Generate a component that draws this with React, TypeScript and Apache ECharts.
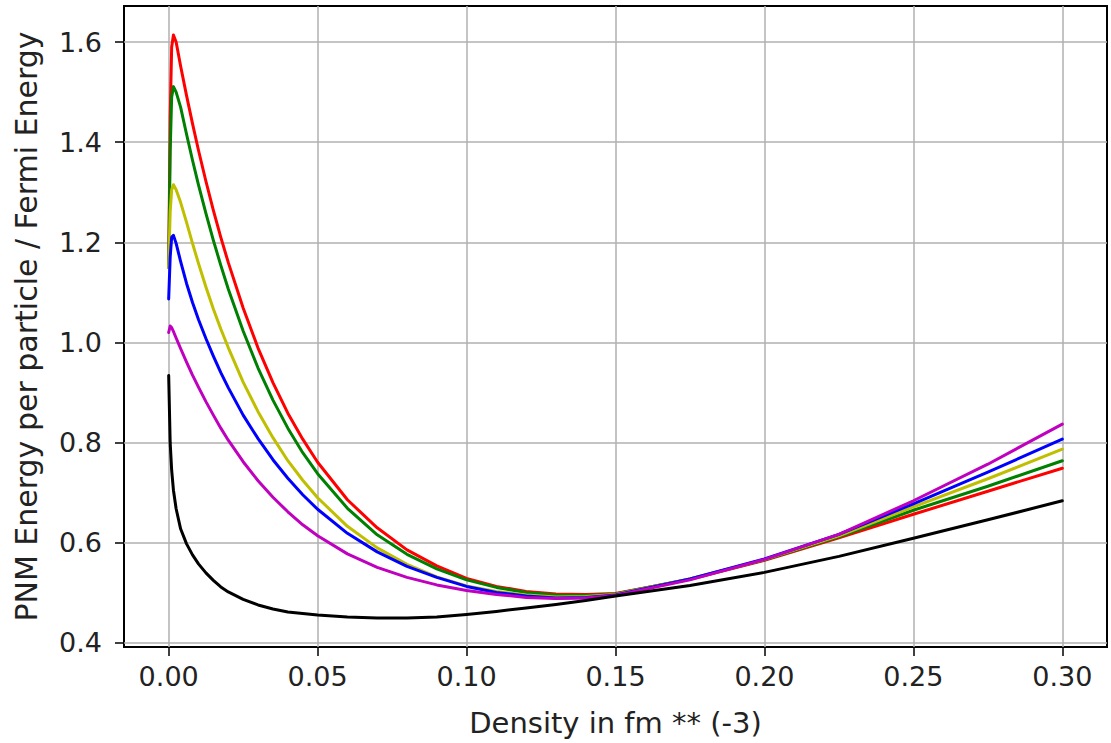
import { useEffect, useRef } from 'react';
import * as echarts from 'echarts';

const density = [0, 0.0005, 0.001, 0.0016, 0.0025, 0.004, 0.006, 0.008, 0.01, 0.0125, 0.015, 0.0175, 0.02, 0.025, 0.03, 0.035, 0.04, 0.045, 0.05, 0.06, 0.07, 0.08, 0.09, 0.10, 0.11, 0.12, 0.13, 0.14, 0.15, 0.175, 0.20, 0.225, 0.25, 0.275, 0.30];

const redVals = [1.15, 1.45, 1.59, 1.614, 1.60, 1.552, 1.493, 1.437, 1.384, 1.322, 1.264, 1.210, 1.160, 1.069, 0.989, 0.920, 0.859, 0.807, 0.761, 0.686, 0.630, 0.586, 0.554, 0.529, 0.513, 0.503, 0.498, 0.497, 0.499, 0.527, 0.565, 0.610, 0.657, 0.703, 0.749];
const greenVals = [1.15, 1.38, 1.49, 1.511, 1.50, 1.470, 1.416, 1.364, 1.315, 1.258, 1.204, 1.154, 1.107, 1.023, 0.949, 0.885, 0.829, 0.780, 0.738, 0.669, 0.616, 0.577, 0.548, 0.526, 0.511, 0.501, 0.496, 0.495, 0.498, 0.528, 0.566, 0.612, 0.665, 0.713, 0.764];
const yellowVals = [1.15, 1.26, 1.305, 1.315, 1.305, 1.280, 1.240, 1.198, 1.158, 1.111, 1.067, 1.027, 0.990, 0.921, 0.862, 0.810, 0.764, 0.725, 0.690, 0.633, 0.590, 0.557, 0.532, 0.514, 0.503, 0.496, 0.492, 0.493, 0.497, 0.528, 0.567, 0.614, 0.672, 0.728, 0.787];
const blueVals = [1.087, 1.17, 1.21, 1.214, 1.198, 1.162, 1.118, 1.080, 1.046, 1.008, 0.973, 0.940, 0.910, 0.855, 0.808, 0.766, 0.729, 0.696, 0.667, 0.619, 0.582, 0.553, 0.531, 0.513, 0.501, 0.494, 0.490, 0.491, 0.496, 0.528, 0.568, 0.617, 0.678, 0.741, 0.807];
const magentaVals = [1.02, 1.033, 1.03, 1.022, 1.009, 0.988, 0.961, 0.935, 0.911, 0.882, 0.855, 0.829, 0.805, 0.762, 0.724, 0.691, 0.662, 0.636, 0.614, 0.578, 0.551, 0.531, 0.516, 0.505, 0.497, 0.491, 0.489, 0.490, 0.495, 0.526, 0.567, 0.617, 0.684, 0.757, 0.837];
const blackVals = [0.934, 0.80, 0.745, 0.705, 0.668, 0.628, 0.598, 0.576, 0.558, 0.540, 0.525, 0.512, 0.502, 0.487, 0.476, 0.468, 0.462, 0.459, 0.456, 0.452, 0.450, 0.450, 0.452, 0.457, 0.463, 0.470, 0.477, 0.485, 0.494, 0.515, 0.541, 0.573, 0.609, 0.646, 0.684];

const xTicks = [0, 0.05, 0.1, 0.15, 0.2, 0.25, 0.3];
const yTicks = [0.4, 0.6, 0.8, 1.0, 1.2, 1.4, 1.6];

const xTitle = 'Density in fm ** (-3)';
const yTitle = 'PNM Energy per particle / Fermi Energy';

const FONT = 'DejaVu Sans';

export default function App() {
  const ref = useRef<HTMLDivElement>(null);
  useEffect(() => {
    const chart = echarts.init(ref.current!, null, { renderer: 'svg' });
    const mk = (name: string, color: string, vals: number[]) => ({
      type: 'line',
      name,
      data: density.map((x, i) => [x, vals[i]]),
      showSymbol: false,
      symbol: 'none',
      smooth: false,
      lineStyle: { color, width: 3, join: 'round', cap: 'round' },
      itemStyle: { color },
    });
    chart.setOption({
      animation: false,
      backgroundColor: '#fff',
      grid: {
        left: 124, right: 4, top: 6, bottom: 96,
        show: true, borderColor: '#000', borderWidth: 2, backgroundColor: 'transparent',
      },
      xAxis: {
        type: 'value', min: -0.015, max: 0.315,
        name: xTitle, nameLocation: 'middle', nameGap: 61,
        nameTextStyle: { fontFamily: FONT, fontSize: 29, color: '#222' },
        axisLine: { show: false, onZero: false },
        axisTick: { show: true, customValues: xTicks, length: 9, lineStyle: { color: '#000', width: 1.5 } },
        axisLabel: { customValues: xTicks, formatter: (v: number) => v.toFixed(2), fontFamily: FONT, fontSize: 27, color: '#222', margin: 16 },
        splitLine: { show: true, lineStyle: { color: '#b0b0b0', width: 1.5 } },
      },
      yAxis: {
        type: 'value', min: 0.392, max: 1.672,
        name: yTitle, nameLocation: 'middle', nameGap: 83, nameRotate: 90,
        nameTextStyle: { fontFamily: FONT, fontSize: 30, color: '#222' },
        axisLine: { show: false, onZero: false },
        axisTick: { show: true, customValues: yTicks, length: 9, lineStyle: { color: '#000', width: 1.5 } },
        axisLabel: { customValues: yTicks, formatter: (v: number) => v.toFixed(1), fontFamily: FONT, fontSize: 27, color: '#222', margin: 22 },
        splitLine: { show: true, lineStyle: { color: '#b0b0b0', width: 1.5 } },
      },
      series: [
        mk('r', '#ff0000', redVals),
        mk('g', '#008000', greenVals),
        mk('y', '#bfbf00', yellowVals),
        mk('b', '#0000ff', blueVals),
        mk('m', '#bf00bf', magentaVals),
        mk('k', '#000000', blackVals),
      ],
    });
    return () => chart.dispose();
  }, []);
  return <div ref={ref} style={{ position: 'fixed', left: 0, top: 0, width: 1111, height: 743, background: '#fff' }} />;
}
